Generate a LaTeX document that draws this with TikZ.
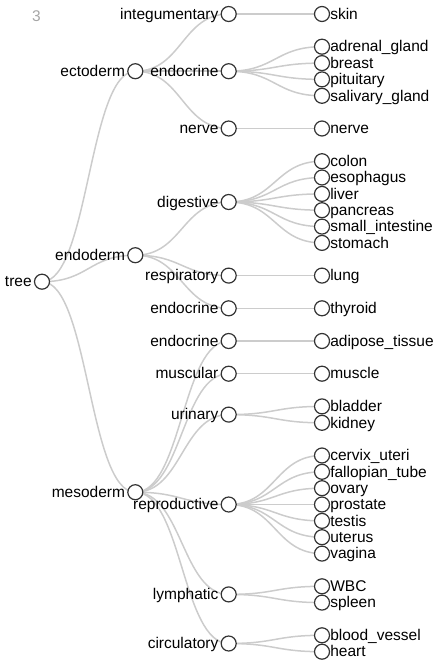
\documentclass[tikz,border=0pt]{standalone}
\usepackage{fontspec}
\setmainfont{Liberation Sans}
\usetikzlibrary{calc,backgrounds}

\begin{document}
\begin{tikzpicture}
      [x=1pt, y=-1pt,
        font=\fontsize{15.5}{18}\selectfont,
        link/.style={draw=black!20, line width=1.5pt},
        dot/.style={
          circle,
          draw=black!80, line width=1.2pt,
          fill=white,
          minimum size=15pt,
          inner sep=0pt,
        },
        every label/.style={inner sep=0pt, text height=11pt, text depth=.5pt},
        label distance=2pt,
      ]
      \useasboundingbox (0,0) rectangle (446,662);
      \node[text=black!35, inner sep=0pt] (pagenum) at (36.5,16.5) {3};

      % root and germ layers
      \node[dot, label=180:tree] (tree) at (42,281.7) {};
      \node[dot, label=180:ectoderm] (ectoderm) at (135.3,71.2) {};
      \node[dot, label=180:endoderm] (endoderm) at (135.3,255.2) {};
      \node[dot, label=180:mesoderm] (mesoderm) at (135.3,492.2) {};

      % systems
      \node[dot, label=180:integumentary] (integumentary) at (228.7,14) {};
      \node[dot, label=180:endocrine] (ectoEndocrine) at (228.7,71.2) {};
      \node[dot, label=180:nerve] (nerveSys) at (228.7,128.5) {};
      \node[dot, label=180:digestive] (digestive) at (228.7,202) {};
      \node[dot, label=180:respiratory] (respiratory) at (228.7,275.6) {};
      \node[dot, label=180:endocrine] (endoEndocrine) at (228.7,308.3) {};
      \node[dot, label=180:endocrine] (mesoEndocrine) at (228.7,341) {};
      \node[dot, label=180:muscular] (muscular) at (228.7,373.7) {};
      \node[dot, label=180:urinary] (urinary) at (228.7,414.6) {};
      \node[dot, label=180:reproductive] (reproductive) at (228.7,504.5) {};
      \node[dot, label=180:lymphatic] (lymphatic) at (228.7,594.4) {};
      \node[dot, label=180:circulatory] (circulatory) at (228.7,643.5) {};

      % tissues
      \begin{scope}[label distance=0pt]
      \node[dot, label=0:skin] (skin) at (322,14) {};
      \node[dot, label=0:adrenal\_gland] (adrenalGland) at (322,46.7) {};
      \node[dot, label=0:breast] (breast) at (322,63.1) {};
      \node[dot, label=0:pituitary] (pituitary) at (322,79.4) {};
      \node[dot, label=0:salivary\_gland] (salivaryGland) at (322,95.8) {};
      \node[dot, label=0:nerve] (nerve) at (322,128.5) {};
      \node[dot, label=0:colon] (colon) at (322,161.2) {};
      \node[dot, label=0:esophagus] (esophagus) at (322,177.5) {};
      \node[dot, label=0:liver] (liver) at (322,193.9) {};
      \node[dot, label=0:pancreas] (pancreas) at (322,210.2) {};
      \node[dot, label=0:small\_intestine] (smallIntestine) at (322,226.6) {};
      \node[dot, label=0:stomach] (stomach) at (322,242.9) {};
      \node[dot, label=0:lung] (lung) at (322,275.6) {};
      \node[dot, label=0:thyroid] (thyroid) at (322,308.3) {};
      \node[dot, label=0:adipose\_tissue] (adiposeTissue) at (322,341) {};
      \node[dot, label=0:muscle] (muscle) at (322,373.7) {};
      \node[dot, label=0:bladder] (bladder) at (322,406.4) {};
      \node[dot, label=0:kidney] (kidney) at (322,422.8) {};
      \node[dot, label=0:cervix\_uteri] (cervixUteri) at (322,455.5) {};
      \node[dot, label=0:fallopian\_tube] (fallopianTube) at (322,471.8) {};
      \node[dot, label=0:ovary] (ovary) at (322,488.2) {};
      \node[dot, label=0:prostate] (prostate) at (322,504.5) {};
      \node[dot, label=0:testis] (testis) at (322,520.9) {};
      \node[dot, label=0:uterus] (uterus) at (322,537.2) {};
      \node[dot, label=0:vagina] (vagina) at (322,553.6) {};
      \node[dot, label=0:WBC] (wbc) at (322,586.3) {};
      \node[dot, label=0:spleen] (spleen) at (322,602.6) {};
      \node[dot, label=0:blood\_vessel] (bloodVessel) at (322,635.3) {};
      \node[dot, label=0:heart] (heart) at (322,651.7) {};
      \end{scope}

      \begin{scope}[on background layer]
      \foreach \a/\b in {tree/ectoderm, tree/endoderm, tree/mesoderm,
          ectoderm/integumentary, ectoderm/ectoEndocrine, ectoderm/nerveSys,
          endoderm/digestive, endoderm/respiratory, endoderm/endoEndocrine,
          mesoderm/mesoEndocrine, mesoderm/muscular, mesoderm/urinary,
          mesoderm/reproductive, mesoderm/lymphatic, mesoderm/circulatory,
          integumentary/skin, ectoEndocrine/adrenalGland, ectoEndocrine/breast,
          ectoEndocrine/pituitary, ectoEndocrine/salivaryGland, nerveSys/nerve,
          digestive/colon, digestive/esophagus, digestive/liver,
          digestive/pancreas, digestive/smallIntestine, digestive/stomach,
          respiratory/lung, endoEndocrine/thyroid, mesoEndocrine/adiposeTissue,
          muscular/muscle, urinary/bladder, urinary/kidney,
          reproductive/cervixUteri, reproductive/fallopianTube, reproductive/ovary,
          reproductive/prostate, reproductive/testis, reproductive/uterus,
          reproductive/vagina, lymphatic/wbc, lymphatic/spleen,
          circulatory/bloodVessel, circulatory/heart}
        \draw[link] let \p1=(\a.center), \p2=(\b.center) in
          (\p1) .. controls ({(\x1+\x2)/2},\y1) and ({(\x1+\x2)/2},\y2) .. (\p2);
      \end{scope}
\end{tikzpicture}
\end{document}
